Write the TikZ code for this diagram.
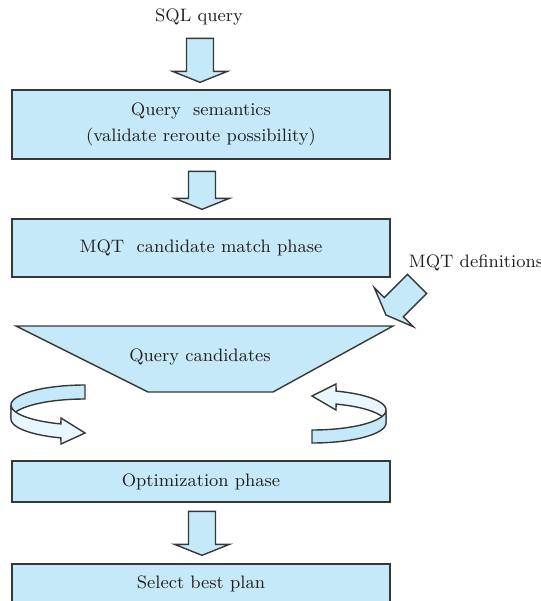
\documentclass[tikz,border=0pt]{standalone}
\usepackage{fontspec}
\usepackage{tikz}
\usetikzlibrary{calc}

\definecolor{qblue}{RGB}{198,233,249}
\definecolor{qpale}{RGB}{232,246,253}
\definecolor{qline}{RGB}{55,55,55}
\definecolor{qtext}{RGB}{35,31,32}

\tikzset{
  boxline/.style={draw=qline, line width=0.7pt, line join=miter},
  phase/.style={boxline, fill=qblue, minimum width=189pt, inner sep=0pt,
    align=center, text=qtext, font=\fontsize{9}{13}\selectfont},
  plaintext/.style={inner sep=0pt, text=qtext, font=\fontsize{9}{13}\selectfont},
  pics/blockarrow/.style={code={
    \draw[boxline, fill=qblue] (0,0) -- (-27.5,-11) -- (-13.5,-11) -- (-13.5,{-11-#1})
      -- (13.5,{-11-#1}) -- (13.5,-11) -- (27.5,-11) -- cycle;
  }}
}

\begin{document}
\begin{tikzpicture}[x=0.5pt, y=-0.5pt]
  \useasboundingbox (0,0) rectangle (541,601);
  % 输入与各阶段
  \node[plaintext] (sql) at (199,17) {SQL query};
  \node[phase, minimum height=34.5pt] (sem) at (201,124.5) {Query~~semantics\\(validate reroute possibility)};
  \node[phase, minimum height=29pt] (match) at (201,248) {MQT~~candidate match phase};
  \node[phase, minimum height=20.5pt] (optim) at (201,481.5) {Optimization phase};
  \node[phase, minimum height=20pt] (best) at (201,584) {Select best plan};
  % 候选集（倒梯形）
  \coordinate (tl) at (16,326);
  \coordinate (tr) at (393,326);
  \coordinate (br) at (273,392);
  \coordinate (bl) at (148,392);
  \draw[boxline, fill=qblue] (tl) -- (tr) -- (br) -- (bl) -- cycle;
  \node[plaintext] (cand) at (200,357) {Query candidates};
  % 块状箭头
  \pic at ($(sem.north)+(-1,-7)$) {blockarrow=33};
  \pic at ($(match.north)+(1,-9)$) {blockarrow=27};
  \pic at ($(best.north)+(1,-8)$) {blockarrow=33};
  \node[plaintext] (mqtdefs) at (476,263) {MQT definitions};
  \coordinate (deftip) at (386,315);
  \pic[rotate=-45] at (deftip) {blockarrow=33};
  % 左侧回环
  \draw[boxline, fill=qblue] plot[domain=270:180, samples=25, smooth] ({85+74*cos(\x)},{405+20*sin(\x)})
    -- plot[domain=180:270, samples=25, smooth] ({85+74*cos(\x)},{419+20*sin(\x)}) -- cycle;
  \draw[boxline, fill=qpale] plot[domain=180:109, samples=25, smooth] ({85+74*cos(\x)},{405+20*sin(\x)})
    -- (61,418) -- (85,433) -- (61,444)
    -- plot[domain=109:180, samples=25, smooth] ({85+74*cos(\x)},{419+20*sin(\x)}) -- cycle;
  % 右侧回环
  \draw[boxline, fill=qpale] plot[domain=360:289, samples=25, smooth] ({312+74*cos(\x)},{410+20*sin(\x)})
    -- (336,384) -- (312,396) -- (336,410)
    -- plot[domain=289:360, samples=25, smooth] ({312+74*cos(\x)},{423+20*sin(\x)}) -- cycle;
  \draw[boxline, fill=qblue] plot[domain=0:90, samples=25, smooth] ({312+74*cos(\x)},{410+20*sin(\x)})
    -- plot[domain=90:0, samples=25, smooth] ({312+74*cos(\x)},{423+20*sin(\x)}) -- cycle;
\end{tikzpicture}
\end{document}
